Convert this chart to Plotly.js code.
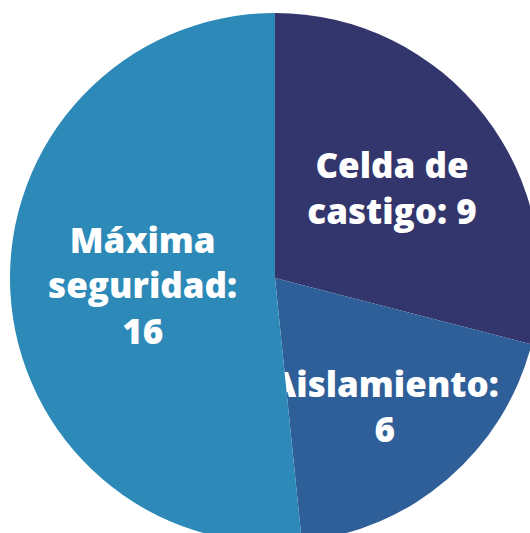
<!DOCTYPE html>
<html>
<head>
<meta charset="utf-8">
<script src="https://cdn.plot.ly/plotly-3.0.1.min.js"></script>
<style>
html,body{margin:0;padding:0;overflow:hidden;background:#fff;}
#chart{width:560px;height:560px;}
</style>
</head>
<body>
<div id="chart"></div>
<script>
const categories = ['Celda de castigo', 'Aislamiento', 'Máxima seguridad'];
const displayNames = ['Celda de<br>castigo', 'Aislamiento', 'Máxima<br>seguridad'];
const separators = [': ', ':<br>', ':<br>'];
const values = [9, 6, 16];
const colors = ['#32366c', '#2e5f98', '#2d8ab8'];

const texts = values.map((v, i) => displayNames[i] + separators[i] + v);

const W = 560, H = 560;
const cx = 275, cyTop = 278, r = 265;

Plotly.newPlot('chart', [{
  type: 'pie',
  labels: categories,
  values: values,
  text: texts,
  textinfo: 'text',
  hoverinfo: 'label+value',
  sort: false,
  direction: 'clockwise',
  rotation: 0,
  marker: {colors: colors, line: {width: 0}},
  textposition: 'inside',
  insidetextorientation: 'horizontal',
  textfont: {family: '"Open Sans", sans-serif', size: 35, color: '#ffffff', weight: 800},
  domain: {
    x: [(cx - r) / W, (cx + r) / W],
    y: [(H - cyTop - r) / H, (H - cyTop + r) / H]
  }
}], {
  width: W, height: H,
  margin: {l: 0, r: 0, t: 0, b: 0},
  showlegend: false,
  uniformtext: {mode: 'show', minsize: 35},
  paper_bgcolor: '#ffffff'
}, {staticPlot: true});
</script>
</body>
</html>
